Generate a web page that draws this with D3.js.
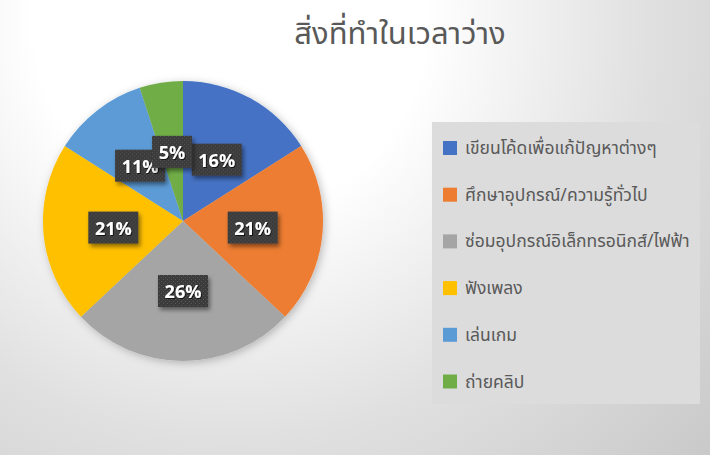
<!DOCTYPE html>
<html>
<head>
<meta charset="utf-8">
<script src="https://cdn.jsdelivr.net/npm/d3@7"></script>
<style>
  html, body { margin: 0; padding: 0; background: #fff; }
  svg { display: block; }
  text { font-family: "Noto Sans Thai", "Leelawadee UI", Tahoma, "Noto Sans", "DejaVu Sans", sans-serif; }
</style>
</head>
<body>
<svg id="chart" width="710" height="455"></svg>
<script>
const title = "สิ่งที่ทำในเวลาว่าง";
const categories = [
  "เขียนโค้ดเพื่อแก้ปัญหาต่างๆ",
  "ศึกษาอุปกรณ์/ความรู้ทั่วไป",
  "ซ่อมอุปกรณ์อิเล็กทรอนิกส์/ไฟฟ้า",
  "ฟังเพลง",
  "เล่นเกม",
  "ถ่ายคลิป"
];
const values = [16, 21, 26, 21, 11, 5];
const colors = ["#4472c4", "#ed7d31", "#a5a5a5", "#ffc000", "#5b9bd5", "#70ad47"];

const W = 710, H = 455;
const svg = d3.select("#chart");
const defs = svg.append("defs");

// background gradient
const bg = defs.append("radialGradient").attr("id", "bgGrad")
  .attr("gradientUnits", "userSpaceOnUse")
  .attr("cx", 230).attr("cy", 20).attr("r", 700);
bg.append("stop").attr("offset", 0).attr("stop-color", "#ffffff");
bg.append("stop").attr("offset", 0.28).attr("stop-color", "#ffffff");
bg.append("stop").attr("offset", 0.6).attr("stop-color", "#e0e0e0");
bg.append("stop").attr("offset", 1).attr("stop-color", "#c4c4c4");
svg.append("rect").attr("width", W).attr("height", H).attr("fill", "url(#bgGrad)");

// pie shadow
const sh = defs.append("filter").attr("id", "pieShadow").attr("x", "-20%").attr("y", "-20%").attr("width", "140%").attr("height", "140%");
sh.append("feDropShadow").attr("dx", 2).attr("dy", 2).attr("stdDeviation", 4).attr("flood-color", "#000").attr("flood-opacity", 0.25);

// label box shadow
const lsh = defs.append("filter").attr("id", "boxShadow").attr("x", "-30%").attr("y", "-30%").attr("width", "160%").attr("height", "160%");
lsh.append("feDropShadow").attr("dx", 2).attr("dy", 3).attr("stdDeviation", 2).attr("flood-color", "#000").attr("flood-opacity", 0.45);

const tsh = defs.append("filter").attr("id", "textShadow").attr("x", "-20%").attr("y", "-20%").attr("width", "140%").attr("height", "140%");
tsh.append("feDropShadow").attr("dx", 1).attr("dy", 1).attr("stdDeviation", 0.6).attr("flood-color", "#000").attr("flood-opacity", 0.7);

// dotted pattern for label boxes
const pat = defs.append("pattern").attr("id", "dots").attr("patternUnits", "userSpaceOnUse")
  .attr("width", 4).attr("height", 4);
pat.append("rect").attr("width", 4).attr("height", 4).attr("fill", "#3b3b3b");
pat.append("rect").attr("x", 0).attr("y", 0).attr("width", 1).attr("height", 1).attr("fill", "#585858");
pat.append("rect").attr("x", 2).attr("y", 2).attr("width", 1).attr("height", 1).attr("fill", "#585858");

// title
svg.append("text").attr("x", 400).attr("y", 44).attr("text-anchor", "middle")
  .attr("font-size", 31).attr("fill", "#595959").text(title);

// pie
const cx = 183, cy = 221, R = 140;
const pie = d3.pie().sort(null).value(d => d);
const arcs = pie(values);
const arc = d3.arc().innerRadius(0).outerRadius(R);
const labelArc = d3.arc().innerRadius(R * 0.5).outerRadius(R * 0.5);

const g = svg.append("g").attr("transform", `translate(${cx},${cy})`);
g.append("g").attr("filter", "url(#pieShadow)")
  .selectAll("path").data(arcs).join("path")
  .attr("d", arc).attr("fill", (d, i) => colors[i]);

const total = d3.sum(values);
const fmt = d => Math.round(d.data / total * 100) + "%";
const lab = g.append("g").selectAll("g").data(arcs).join("g")
  .attr("transform", d => `translate(${labelArc.centroid(d)})`);
lab.each(function(d) {
  const s = d3.select(this);
  const t = fmt(d);
  const w = t.length === 2 ? 40 : 50;
  s.append("rect").attr("x", -w / 2).attr("y", -16).attr("width", w).attr("height", 32)
    .attr("fill", "url(#dots)").attr("filter", "url(#boxShadow)");
  s.append("text").attr("text-anchor", "middle").attr("dy", 7)
    .attr("font-family", "'Open Sans', 'Noto Sans', sans-serif")
    .attr("font-weight", "bold").attr("font-size", 18).attr("fill", "#ffffff")
    .attr("filter", "url(#textShadow)").text(t);
});

// legend
const lx = 432, ly = 122, lw = 268, lh = 282;
svg.append("rect").attr("x", lx).attr("y", ly).attr("width", lw).attr("height", lh).attr("fill", "#dcdcdc");
const leg = svg.append("g").selectAll("g").data(categories).join("g")
  .attr("transform", (d, i) => `translate(${lx + 11},${148 + i * 46.7})`);
leg.append("rect").attr("x", 0).attr("y", -7).attr("width", 14).attr("height", 14)
  .attr("fill", (d, i) => colors[i]);
leg.append("text").attr("x", 22).attr("y", 6).attr("font-size", 17.5).attr("fill", "#595959").text(d => d);
</script>
</body>
</html>
